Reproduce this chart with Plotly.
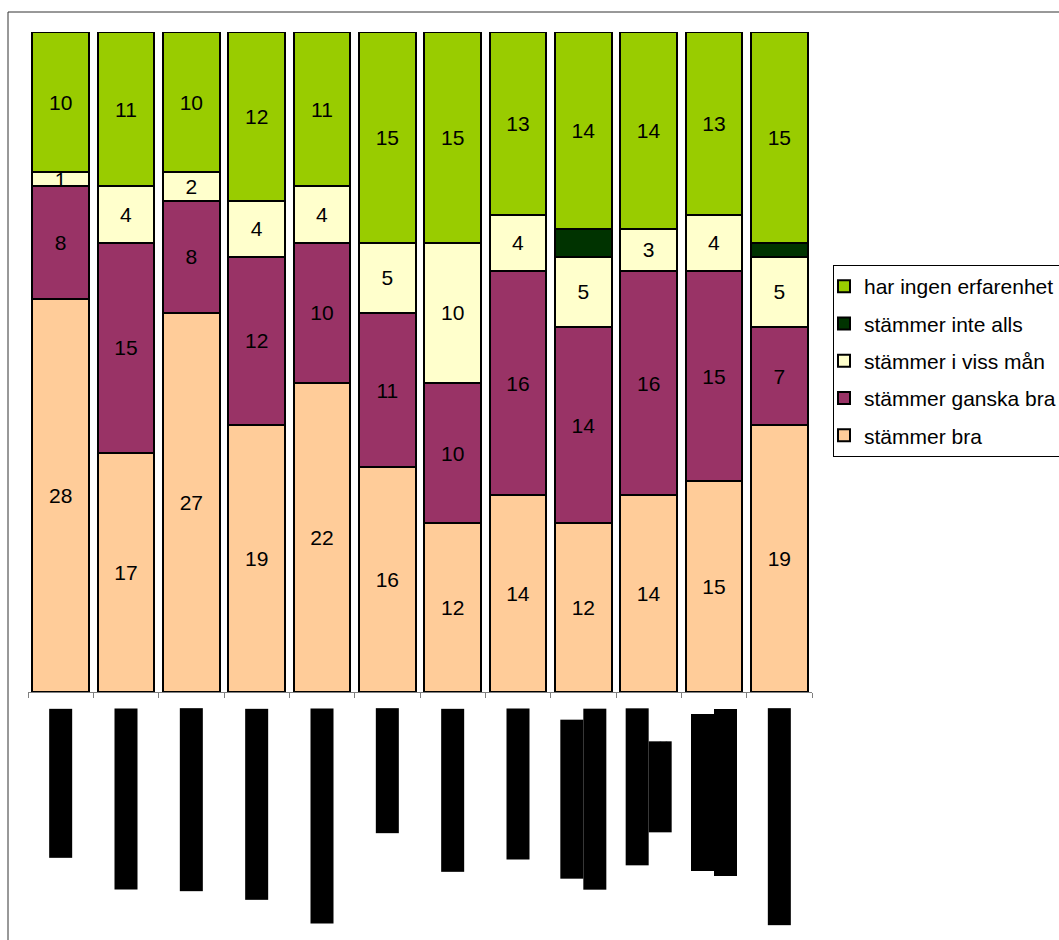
import plotly.graph_objects as go

categories = [f"Påstående {i}" for i in range(1, 13)]
stammer_bra = [28, 17, 27, 19, 22, 16, 12, 14, 12, 14, 15, 19]
stammer_ganska_bra = [8, 15, 8, 12, 10, 11, 10, 16, 14, 16, 15, 7]
stammer_i_viss_man = [1, 4, 2, 4, 4, 5, 10, 4, 5, 3, 4, 5]
stammer_inte_alls = [0, 0, 0, 0, 0, 0, 0, 0, 2, 0, 0, 1]
har_ingen_erfarenhet = [10, 11, 10, 12, 11, 15, 15, 13, 14, 14, 13, 15]

series = [
    ("stämmer bra", stammer_bra, "#FFCC99", True),
    ("stämmer ganska bra", stammer_ganska_bra, "#993366", True),
    ("stämmer i viss mån", stammer_i_viss_man, "#FFFFCC", True),
    ("stämmer inte alls", stammer_inte_alls, "#003300", False),
    ("har ingen erfarenhet", har_ingen_erfarenhet, "#99CC00", True),
]

FONT = "Liberation Sans, Arial, sans-serif"
fig = go.Figure()
for i, (name, vals, color, show_text) in enumerate(series):
    fig.add_trace(go.Bar(
        x=categories, y=vals, name=name,
        marker=dict(color=color, line=dict(color="black", width=2)),
        text=[str(v) if (show_text and v > 0) else "" for v in vals],
        textposition="inside", insidetextanchor="middle",
        constraintext="none", textangle=0,
        textfont=dict(color="black", size=21, family=FONT),
        legendgroup=f"g{i}", legendrank=100 - i,
        hoverinfo="skip",
    ))

# redacted (blacked-out) rotated category labels: (lines, lengths in px)
label_lines = [
    [148], [180], [182], [190], [214], [124], [162], [150],
    [180, 158], [90, 156], [166, 156], [216],
]

annotations = []
for cat, lens in zip(categories, label_lines):
    maxlen = max(lens)
    n = len(lens)
    for j, L in enumerate(lens):
        # first line is rightmost for text rotated 90°
        offset = ((n - 1) / 2 - j) * 23
        annotations.append(dict(
            x=cat, xref="x", y=-(17 + maxlen / 2) / 660, yref="paper",
            text=cat, textangle=90,
            xanchor="center", yanchor="middle",
            xshift=offset,
            width=L, height=22, bgcolor="black", borderpad=0,
            font=dict(color="black", size=16, family=FONT),
            showarrow=False,
        ))

fig.update_layout(
    width=1059, height=940,
    margin=dict(l=28, r=247, t=32, b=248, autoexpand=False),
    plot_bgcolor="white", paper_bgcolor="white",
    barmode="stack", bargap=0.13,
    font=dict(family=FONT, color="black"),
    showlegend=True,
    legend=dict(
        x=(833 - 28) / 784, y=(692 - 265) / 660, xanchor="left", yanchor="top",
        traceorder="grouped", tracegroupgap=7, indentation=-10,
        bordercolor="black", borderwidth=1,
        font=dict(size=21, family=FONT, color="black"),
        bgcolor="white",
    ),
    xaxis=dict(
        type="category", tickson="boundaries", ticks="outside", ticklen=5,
        tickcolor="#808080", showticklabels=False, showline=True,
        linecolor="#808080", linewidth=1, showgrid=False, zeroline=False,
    ),
    yaxis=dict(range=[0, 47], visible=False, showgrid=False, zeroline=False),
    annotations=annotations,
    shapes=[dict(
        type="rect", xref="paper", yref="paper",
        x0=-20 / 784, x1=1.6, y0=-0.5, y1=1 + 20 / 660,
        line=dict(color="#333333", width=1), layer="below",
    )],
)

fig.write_html("out.html")
